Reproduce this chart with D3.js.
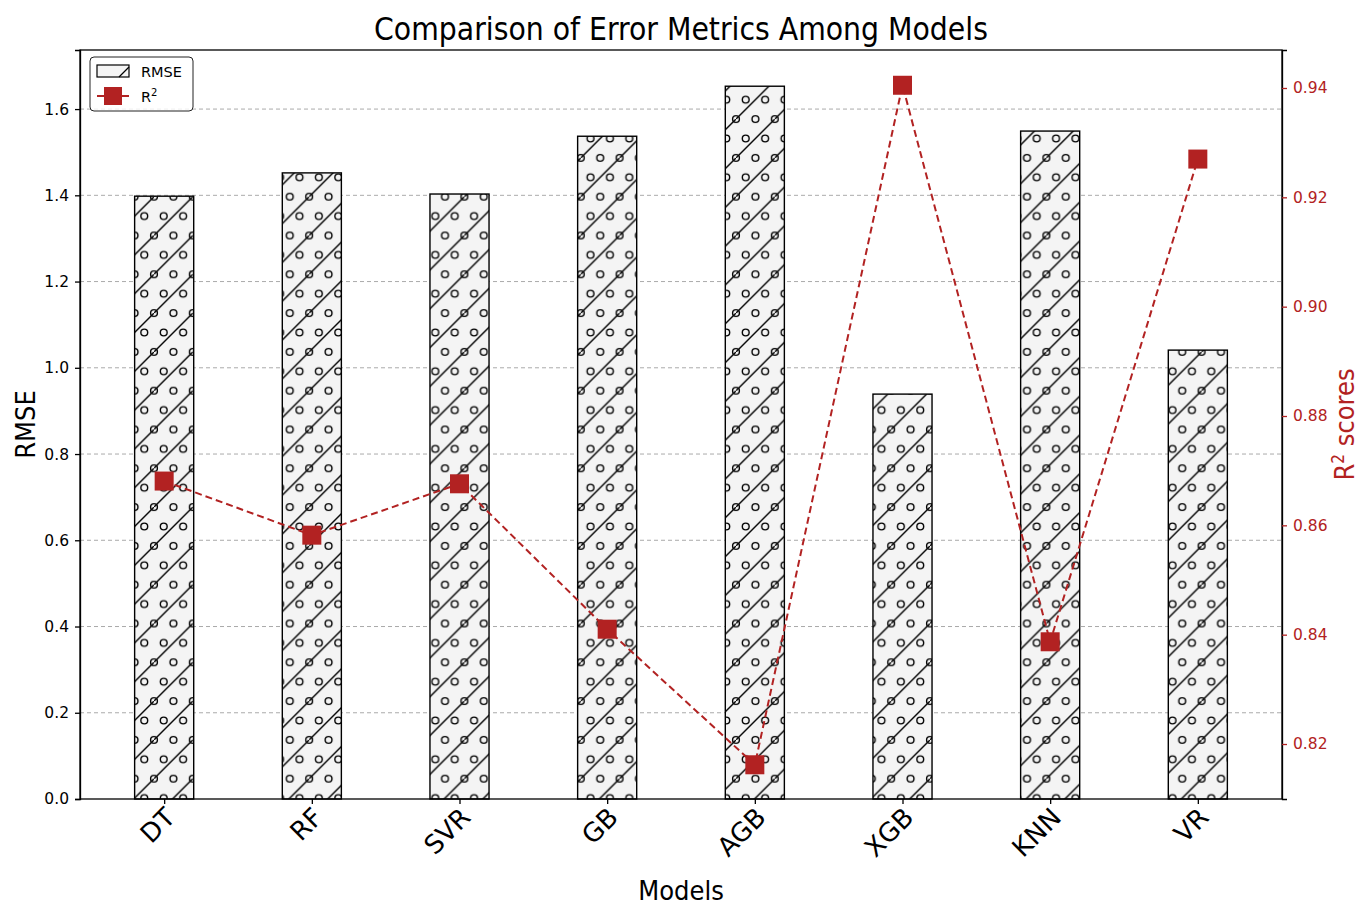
<!DOCTYPE html>
<meta charset="utf-8">
<style>
body { margin: 0; background: #fff; }
svg { display: block; font-family: 'DejaVu Sans', sans-serif; }
.lbl { font-family: 'DejaVu Sans Condensed', 'Liberation Sans Narrow', sans-serif; }
.grid line { stroke: #a0a0a0; stroke-width: 0.9px; stroke-dasharray: 4,3; }
.axis path, .axis line { stroke: #000; stroke-width: 1.3px; }
.axis text { font-size: 15.5px; font-family: 'DejaVu Sans', sans-serif; }
.raxis path { stroke: #000; stroke-width: 1.3px; }
.raxis line { stroke: #b22222; stroke-width: 1.3px; }
.raxis text { fill: #b22222; font-size: 15.5px; font-family: 'DejaVu Sans', sans-serif; }
</style>
<svg id="chart" width="1360" height="906"></svg>
<script src="https://d3js.org/d3.v7.min.js"></script>
<script>

// data
var models = ["DT", "RF", "SVR", "GB", "AGB", "XGB", "KNN", "VR"];
var rmse = [1.398, 1.452, 1.403, 1.537, 1.653, 0.939, 1.549, 1.041];
var r2 = [0.8681, 0.8582, 0.8676, 0.8410, 0.8162, 0.9405, 0.8387, 0.9270];
var rmseTicks = [0.0, 0.2, 0.4, 0.6, 0.8, 1.0, 1.2, 1.4, 1.6];
var r2Ticks = [0.82, 0.84, 0.86, 0.88, 0.90, 0.92, 0.94];

var red = "#b22222";
var plotL = 80, plotR = 1282, plotT = 50, plotB = 799;

var svg = d3.select("#chart");

var x = d3.scaleLinear().domain([-0.57, models.length - 1 + 0.57]).range([plotL, plotR]);
var y = d3.scaleLinear().domain([0, 1.737]).range([plotB, plotT]);
var y2 = d3.scaleLinear().domain([0.80994, 0.94695]).range([plotB, plotT]);

// hatch "/o" - anchored to the canvas like matplotlib does
var s = 38.8;
var defs = svg.append("defs");
var pat = defs.append("pattern")
    .attr("id", "hatch")
    .attr("patternUnits", "userSpaceOnUse")
    .attr("x", 154).attr("y", 196.7)
    .attr("width", s).attr("height", s);
pat.append("rect").attr("width", s).attr("height", s).attr("fill", "#f4f4f4");
pat.append("line")
    .attr("x1", -1).attr("y1", s + 1).attr("x2", s + 1).attr("y2", -1)
    .attr("stroke", "#000").attr("stroke-width", 1.4);
var dots = [[0, 0], [s / 2, 0], [s, 0], [0, s], [s / 2, s], [s, s], [s / 4, s / 2], [3 * s / 4, s / 2]];
pat.selectAll("circle").data(dots).enter().append("circle")
    .attr("cx", function(d) { return d[0]; })
    .attr("cy", function(d) { return d[1]; })
    .attr("r", 3.4)
    .attr("fill", "none").attr("stroke", "#000").attr("stroke-width", 1.4);

// grid
svg.append("g").attr("class", "grid")
  .selectAll("line")
  .data(rmseTicks.filter(function(t) { return t > 0; }))
  .enter().append("line")
    .attr("x1", plotL).attr("x2", plotR)
    .attr("y1", function(d) { return y(d); })
    .attr("y2", function(d) { return y(d); });

// bars
var bw = x(0.4) - x(0);
svg.append("g").selectAll("rect")
  .data(rmse)
  .enter().append("rect")
    .attr("x", function(d, i) { return x(i) - bw / 2; })
    .attr("y", function(d) { return y(d); })
    .attr("width", bw)
    .attr("height", function(d) { return plotB - y(d); })
    .attr("fill", "url(#hatch)")
    .attr("stroke", "#000")
    .attr("stroke-width", 1.4);

// frame
svg.append("rect")
    .attr("x", plotL).attr("y", plotT)
    .attr("width", plotR - plotL).attr("height", plotB - plotT)
    .attr("fill", "none").attr("stroke", "#000").attr("stroke-width", 1.3);

// axes
svg.append("g").attr("class", "axis")
    .attr("transform", "translate(" + plotL + ",0)")
    .call(d3.axisLeft(y).tickValues(rmseTicks).tickFormat(d3.format(".1f")).tickSizeOuter(0).tickSize(5).tickPadding(6));

svg.append("g").attr("class", "raxis")
    .attr("transform", "translate(" + plotR + ",0)")
    .call(d3.axisRight(y2).tickValues(r2Ticks).tickFormat(d3.format(".2f")).tickSizeOuter(0).tickSize(5).tickPadding(6));

var xa = svg.append("g").attr("class", "axis")
    .attr("transform", "translate(0," + plotB + ")")
    .call(d3.axisBottom(x).tickValues(d3.range(models.length)).tickFormat(function(i) { return models[i]; }).tickSizeOuter(0).tickSize(5));
xa.select(".domain").remove();
xa.selectAll("text")
    .attr("class", "lbl")
    .style("font-size", "26px")
    .attr("text-anchor", "end")
    .attr("dy", null)
    .attr("y", 0)
    .attr("transform", "translate(12,20) rotate(-45)");

// R2 line
var line = d3.line()
    .x(function(d, i) { return x(i); })
    .y(function(d) { return y2(d); });
svg.append("path")
    .datum(r2)
    .attr("d", line)
    .attr("fill", "none")
    .attr("stroke", red)
    .attr("stroke-width", 2)
    .attr("stroke-dasharray", "7,4");
var ms = 19;
svg.append("g").selectAll("rect")
  .data(r2)
  .enter().append("rect")
    .attr("x", function(d, i) { return x(i) - ms / 2; })
    .attr("y", function(d) { return y2(d) - ms / 2; })
    .attr("width", ms).attr("height", ms)
    .attr("fill", red);

// titles
svg.append("text").attr("class", "lbl")
    .attr("x", (plotL + plotR) / 2).attr("y", 40)
    .attr("text-anchor", "middle")
    .style("font-size", "31.5px")
    .text("Comparison of Error Metrics Among Models");
svg.append("text").attr("class", "lbl")
    .attr("x", (plotL + plotR) / 2).attr("y", 900)
    .attr("text-anchor", "middle")
    .style("font-size", "27px")
    .text("Models");
svg.append("text").attr("class", "lbl")
    .attr("transform", "translate(35," + ((plotT + plotB) / 2) + ") rotate(-90)")
    .attr("text-anchor", "middle")
    .style("font-size", "27px")
    .text("RMSE");
var r2lab = svg.append("text").attr("class", "lbl")
    .attr("transform", "translate(1354," + ((plotT + plotB) / 2) + ") rotate(-90)")
    .attr("text-anchor", "middle")
    .style("font-size", "27px")
    .attr("fill", red);
r2lab.append("tspan").text("R");
r2lab.append("tspan").attr("dy", -10).style("font-size", "17px").text("2");
r2lab.append("tspan").attr("dy", 10).text(" scores");

// legend
var lg = svg.append("g");
lg.append("rect")
    .attr("x", 90).attr("y", 57).attr("width", 103).attr("height", 54).attr("rx", 4)
    .attr("fill", "#fff").attr("fill-opacity", 0.8)
    .attr("stroke", "#222").attr("stroke-width", 1);
lg.append("rect")
    .attr("x", 97).attr("y", 65).attr("width", 32).attr("height", 12)
    .attr("fill", "#f4f4f4").attr("stroke", "#000").attr("stroke-width", 1.2);
lg.append("line")
    .attr("x1", 119).attr("y1", 77).attr("x2", 129).attr("y2", 67)
    .attr("stroke", "#000").attr("stroke-width", 1.2);
lg.append("text").attr("x", 141).attr("y", 77).style("font-size", "14.5px").text("RMSE");
lg.append("line")
    .attr("x1", 97).attr("y1", 96).attr("x2", 129).attr("y2", 96)
    .attr("stroke", red).attr("stroke-width", 2);
lg.append("rect")
    .attr("x", 104).attr("y", 87).attr("width", 18).attr("height", 18).attr("fill", red);
var lt = lg.append("text").attr("x", 141).attr("y", 102).style("font-size", "14.5px");
lt.append("tspan").text("R");
lt.append("tspan").attr("dy", -6).style("font-size", "10px").text("2");

</script>
